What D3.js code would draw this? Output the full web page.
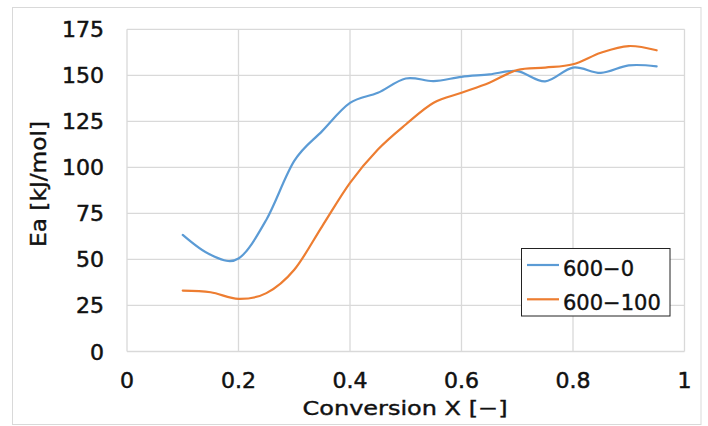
<!DOCTYPE html>
<html><head><meta charset="utf-8">
<script src="https://cdn.jsdelivr.net/npm/d3@7"></script>
<style>body{margin:0;background:#fff}svg{display:block}</style>
</head><body><svg id="c" width="708" height="426"></svg>
<script>
const conversion = [0.10,0.15,0.20,0.25,0.30,0.35,0.40,0.45,0.50,0.55,0.60,0.65,0.70,0.75,0.80,0.85,0.90,0.95];
const ea600_0   = [63.3,52.5,50.5,71.6,103.5,119.7,135,140.5,148.3,146.9,149.2,150.5,152.3,146.7,154.2,151.3,155.4,154.9];
const ea600_100 = [33.1,32.2,28.6,31.7,44.4,68,91.6,109.7,123.3,135.1,140.5,146,152.9,154.2,156,162.3,165.9,163.6];
const seriesNames = ["600\u22120","600\u2212100"];
const xTicks = [0,0.2,0.4,0.6,0.8,1];
const yTicks = [0,25,50,75,100,125,150,175];
const xTitle = "Conversion X [\u2212]";
const yTitle = "Ea [kJ/mol]";

const svg = d3.select("#c");
const font = "'DejaVu Sans', Verdana, sans-serif";
svg.append("rect").attr("x",12.5).attr("y",7.5).attr("width",688.5).attr("height",417)
  .attr("fill","#fff").attr("stroke","#d9d9d9").attr("stroke-width",1);

const x = d3.scaleLinear().domain([0,1]).range([127,684.5]);
const y = d3.scaleLinear().domain([0,175]).range([351.5,29.3]);

const grid = svg.append("g").attr("stroke","#d9d9d9").attr("stroke-width",1.3);
yTicks.forEach(t=>grid.append("line").attr("x1",x(0)).attr("x2",x(1)).attr("y1",y(t)).attr("y2",y(t)));
xTicks.forEach(t=>grid.append("line").attr("x1",x(t)).attr("x2",x(t)).attr("y1",y(0)).attr("y2",y(175)));

const tickStyle = s=>s.attr("font-family",font).attr("font-size",22).attr("fill","#111")
  .attr("stroke","#111").attr("stroke-width",0.5);
yTicks.forEach(t=>tickStyle(svg.append("text")).attr("x",104).attr("y",y(t)+8)
  .attr("text-anchor","end").text(t));
xTicks.forEach(t=>tickStyle(svg.append("text")).attr("x",x(t)).attr("y",387.5)
  .attr("text-anchor","middle").text(t));

svg.append("text").attr("x",405).attr("y",415).attr("text-anchor","middle")
  .attr("font-family",font).attr("font-size",20).attr("fill","#111").attr("stroke","#111").attr("stroke-width",0.4)
  .attr("textLength",205).attr("lengthAdjust","spacingAndGlyphs").text(xTitle);
svg.append("text").attr("transform","translate(46,184) rotate(-90)").attr("text-anchor","middle")
  .attr("font-family",font).attr("font-size",21).attr("fill","#111").attr("stroke","#111").attr("stroke-width",0.4)
  .attr("textLength",126).attr("lengthAdjust","spacingAndGlyphs").text(yTitle);

const colors = ["#5B9BD5","#ED7D31"];
const series = [ea600_0, ea600_100];
const line = d3.line().x(d=>x(d[0])).y(d=>y(d[1])).curve(d3.curveCatmullRom.alpha(0));
series.forEach((s,i)=>{
  svg.append("path").datum(conversion.map((c,j)=>[c,s[j]])).attr("d",line)
    .attr("fill","none").attr("stroke",colors[i]).attr("stroke-width",2.2).attr("stroke-linecap","round");
});

const lg = svg.append("g");
lg.append("rect").attr("x",521.5).attr("y",248.5).attr("width",148.5).attr("height",67.5)
  .attr("fill","#fff").attr("stroke","#222").attr("stroke-width",1);
seriesNames.forEach((n,i)=>{
  const yy = 265 + i*34.3;
  lg.append("line").attr("x1",527).attr("x2",559).attr("y1",yy).attr("y2",yy)
    .attr("stroke",colors[i]).attr("stroke-width",2.2);
  lg.append("text").attr("x",563).attr("y",yy+10.5).attr("font-family",font).attr("font-size",21)
    .attr("fill","#111").attr("stroke","#111").attr("stroke-width",0.4).text(n);
});
</script></body></html>
